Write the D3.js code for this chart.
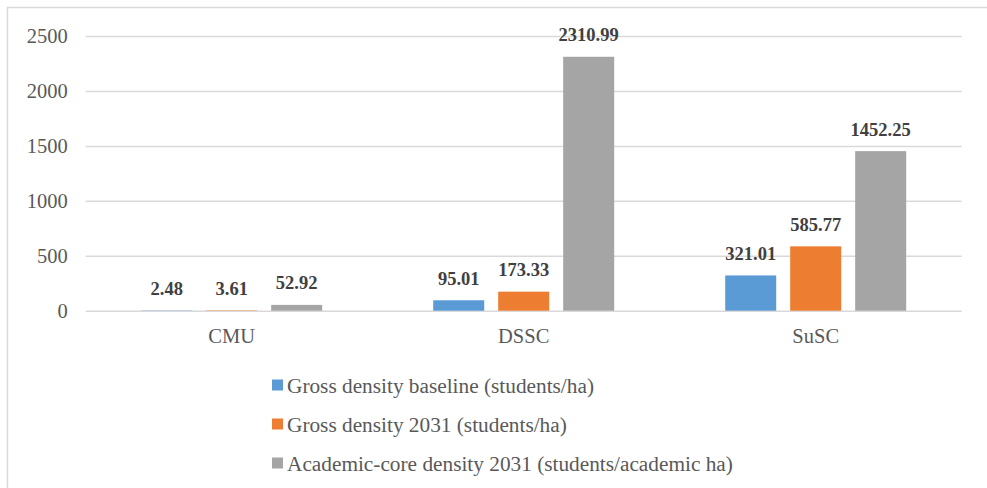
<!DOCTYPE html>
<html>
<head>
<meta charset="utf-8">
<script src="https://cdn.jsdelivr.net/npm/d3@7"></script>
<style>
  html, body { margin: 0; padding: 0; background: #fff; }
  svg { display: block; }
  text { font-family: "Liberation Serif", "Times New Roman", serif; }
</style>
</head>
<body>
<svg id="chart" width="987" height="488"></svg>
<script>
const categories = ["CMU", "DSSC", "SuSC"];
const seriesNames = [
  "Gross density baseline (students/ha)",
  "Gross density 2031 (students/ha)",
  "Academic-core density 2031 (students/academic ha)"
];
const seriesColors = ["#5B9BD5", "#ED7D31", "#A5A5A5"];
const baseline = [2.48, 95.01, 321.01];
const gross2031 = [3.61, 173.33, 585.77];
const academic2031 = [52.92, 2310.99, 1452.25];
const yTicks = [0, 500, 1000, 1500, 2000, 2500];

const seriesValues = [baseline, gross2031, academic2031];

const svg = d3.select("#chart");

// outer border
svg.append("rect")
  .attr("x", 7.5).attr("y", 7.5)
  .attr("width", 1000).attr("height", 500)
  .attr("fill", "none").attr("stroke", "#D9D9D9").attr("stroke-width", 1.5);

const plot = { left: 85.7, right: 961.7, top: 36, bottom: 310.7 };

const y = d3.scaleLinear().domain([0, 2500]).range([plot.bottom, plot.top]);
const x0 = d3.scaleBand().domain(categories).range([plot.left, plot.right]).padding(0);
const x1 = d3.scaleBand().domain(d3.range(3)).range([0, x0.bandwidth()])
  .paddingInner(0.215).paddingOuter(0.854);

// gridlines
const yAxis = d3.axisLeft(y).tickValues(yTicks).tickSize(-(plot.right - plot.left)).tickPadding(18).tickFormat(d3.format("d"));
const gy = svg.append("g").attr("transform", `translate(${plot.left},0)`).call(yAxis);
gy.select(".domain").remove();
gy.selectAll(".tick line").attr("stroke", "#D9D9D9").attr("stroke-width", 1.5);
gy.selectAll(".tick text")
  .attr("fill", "#595959").attr("font-size", "20.5px")
  .attr("font-family", "Liberation Serif, Times New Roman, serif");

// bars
const groups = svg.append("g").selectAll("g")
  .data(categories)
  .join("g")
  .attr("transform", d => `translate(${x0(d)},0)`);

groups.selectAll("rect")
  .data((c, ci) => seriesValues.map((vals, si) => ({ si, v: vals[ci] })))
  .join("rect")
  .attr("x", d => x1(d.si))
  .attr("width", x1.bandwidth())
  .attr("y", d => y(d.v))
  .attr("height", d => y(0) - y(d.v))
  .attr("fill", d => seriesColors[d.si]);

groups.selectAll("text.lbl")
  .data((c, ci) => seriesValues.map((vals, si) => ({ si, v: vals[ci] })))
  .join("text")
  .attr("class", "lbl")
  .attr("x", d => x1(d.si) + x1.bandwidth() / 2)
  .attr("y", d => y(d.v) - 15.5)
  .attr("text-anchor", "middle")
  .attr("font-weight", "bold")
  .attr("font-size", "18.5px")
  .attr("fill", "#404040")
  .text(d => d3.format(".2f")(d.v));

// x axis labels
const xAxis = d3.axisBottom(x0).tickSize(0).tickPadding(18);
const gx = svg.append("g").attr("transform", `translate(0,${plot.bottom})`).call(xAxis);
gx.select(".domain").remove();
gx.selectAll(".tick text")
  .attr("fill", "#595959").attr("font-size", "20.5px")
  .attr("font-family", "Liberation Serif, Times New Roman, serif");

// legend
const legend = svg.append("g").selectAll("g")
  .data(seriesNames)
  .join("g")
  .attr("transform", (d, i) => `translate(272,${385 + i * 39})`);
legend.append("rect")
  .attr("x", 0).attr("y", -5.5).attr("width", 11).attr("height", 11)
  .attr("fill", (d, i) => seriesColors[i]);
legend.append("text")
  .attr("x", 15).attr("y", 7.5)
  .attr("font-size", "21.3px").attr("fill", "#595959")
  .text(d => d);
</script>
</body>
</html>
